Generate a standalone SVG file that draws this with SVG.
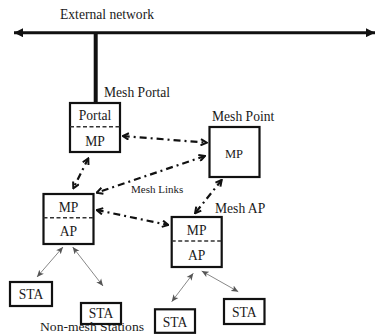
<svg xmlns="http://www.w3.org/2000/svg" width="377" height="334" viewBox="0 0 377 334">
<defs>
<style>
text{font-family:'Liberation Serif','Times New Roman',serif;fill:#1a1a1a}
.lbl{font-size:13.6px}
.box{fill:#fff;stroke:#111;stroke-width:2.2}
.div{stroke:#333;stroke-width:1.6;stroke-dasharray:4 2.5}
.in{font-size:13.6px;text-anchor:middle}
.link{fill:none;stroke:#111;stroke-width:2.2;stroke-dasharray:7 4 2 4;marker-start:url(#ch);marker-end:url(#ch)}
.thin{fill:none;stroke:#888;stroke-width:1;marker-start:url(#th);marker-end:url(#th)}
</style>
<marker id="ch" viewBox="0 0 8 8" refX="7" refY="4" markerWidth="8" markerHeight="8" markerUnits="userSpaceOnUse" orient="auto-start-reverse">
<path d="M1,0.8 L7,4 L1,7.2" fill="none" stroke="#111" stroke-width="2"/>
</marker>
<marker id="th" viewBox="0 0 8 8" refX="8" refY="4" markerWidth="7" markerHeight="7" markerUnits="userSpaceOnUse" orient="auto-start-reverse">
<path d="M0,0.5 L8,4 L0,7.5 L2,4 Z" fill="#555"/>
</marker>
<marker id="big" viewBox="0 0 10 10" refX="10" refY="5" markerWidth="10" markerHeight="9" markerUnits="userSpaceOnUse" orient="auto-start-reverse">
<path d="M0,0 L10,5 L0,10 Z" fill="#111"/>
</marker>
</defs>
<g font-family="Liberation Serif, Times New Roman, serif">
<g id="external-network">
<line x1="14" y1="32.7" x2="375" y2="32.7" stroke="#111" stroke-width="3" marker-start="url(#big)" marker-end="url(#big)"/>
<text class="lbl" x="60" y="18.5" font-family="Liberation Serif, serif">External network</text>
</g>

<g id="connectors">
<line x1="95.7" y1="32.7" x2="95.7" y2="103" stroke="#111" stroke-width="4"/>
<line class="link" x1="122.7" y1="136" x2="206.7" y2="142.7"/>
<line class="link" x1="88.3" y1="158.3" x2="73.3" y2="188.3"/>
<line class="link" x1="205" y1="156" x2="96.7" y2="192.7"/>
<line class="link" x1="96.7" y1="210" x2="168.3" y2="225"/>
<line class="link" x1="221.7" y1="180" x2="195" y2="213.3"/>
<line class="thin" x1="63" y1="247" x2="37" y2="277"/>
<line class="thin" x1="72.7" y1="247" x2="103" y2="286"/>
<line class="thin" x1="193.3" y1="273.3" x2="171.7" y2="301.7"/>
<line class="thin" x1="201.7" y1="271" x2="238.3" y2="291.7"/>
<text x="131" y="193" font-family="Liberation Serif, serif" font-size="11" fill="#444">Mesh Links</text>
</g>

<g id="mesh-portal">
<rect class="box" x="70" y="103" width="50" height="49"/>
<line class="div" x1="70" y1="126.7" x2="120" y2="126.7"/>
<text class="in" x="95" y="120" font-family="Liberation Serif, serif">Portal</text>
<text class="in" x="95" y="145.5" font-family="Liberation Serif, serif">MP</text>
<text class="lbl" x="104" y="96.5" font-family="Liberation Serif, serif">Mesh Portal</text>
</g>

<g id="mesh-point">
<rect class="box" x="209.5" y="127" width="50" height="50"/>
<text class="in" x="234" y="157.5" font-family="Liberation Serif, serif" style="font-size:12.5px">MP</text>
<text class="lbl" x="212" y="120.5" font-family="Liberation Serif, serif">Mesh Point</text>
</g>

<g id="ap-left">
<rect class="box" x="43.5" y="194" width="50" height="50"/>
<line class="div" x1="43.5" y1="217.7" x2="93.5" y2="217.7"/>
<text class="in" x="68.5" y="212" font-family="Liberation Serif, serif">MP</text>
<text class="in" x="68.5" y="235.5" font-family="Liberation Serif, serif">AP</text>
</g>

<g id="mesh-ap">
<rect class="box" x="171.7" y="217" width="50" height="50"/>
<line class="div" x1="171.7" y1="241" x2="221.7" y2="241"/>
<text class="in" x="196.7" y="235" font-family="Liberation Serif, serif">MP</text>
<text class="in" x="196.7" y="260" font-family="Liberation Serif, serif">AP</text>
<text class="lbl" x="215" y="212.7" font-family="Liberation Serif, serif">Mesh AP</text>
</g>

<g id="sta1">
<rect class="box" x="10" y="282" width="42" height="24"/>
<text class="in" x="31" y="298.5" font-family="Liberation Serif, serif">STA</text>
</g>
<g id="sta2">
<rect class="box" x="81" y="303" width="40" height="21"/>
<text class="in" x="101" y="317.6" font-family="Liberation Serif, serif">STA</text>
</g>
<g id="sta3">
<rect class="box" x="155" y="309.3" width="40" height="23.5"/>
<text class="in" x="175" y="327" font-family="Liberation Serif, serif">STA</text>
</g>
<g id="sta4">
<rect class="box" x="224" y="299" width="40.5" height="25"/>
<text class="in" x="244.2" y="316.5" font-family="Liberation Serif, serif">STA</text>
</g>

<g id="non-mesh-label">
<text class="lbl" x="40" y="331.2" font-family="Liberation Serif, serif" style="font-size:12px" textLength="104" lengthAdjust="spacingAndGlyphs">Non-mesh Stations</text>
</g>
</g>
</svg>
